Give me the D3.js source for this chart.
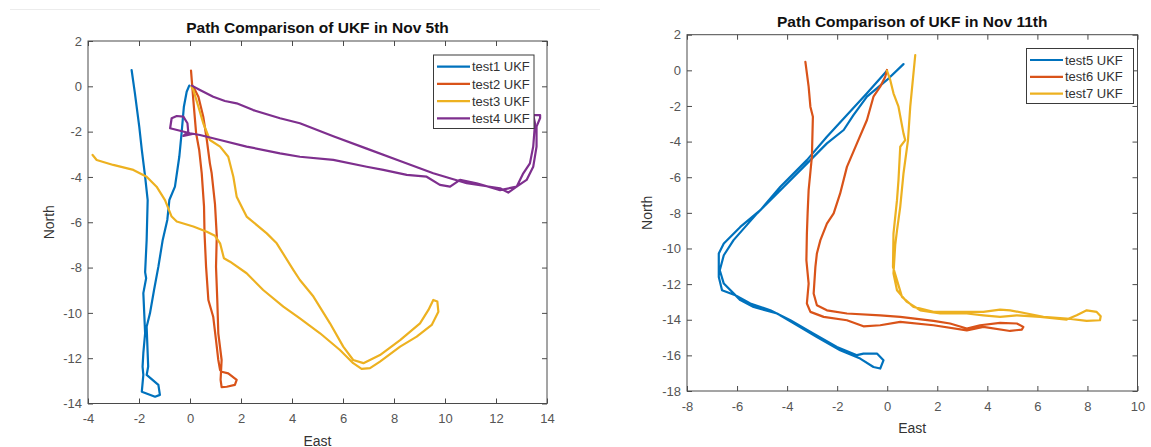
<!DOCTYPE html>
<html>
<head>
<meta charset="utf-8">
<script src="https://cdn.jsdelivr.net/npm/d3@7"></script>
<style>
  html, body { margin: 0; padding: 0; background: #fff; }
  svg { display: block; font-family: "Liberation Sans", Arial, sans-serif; }
</style>
</head>
<body>
<svg id="chart" width="1151" height="447"></svg>
<script>
// ---------------- DATA ----------------
const titleLeft = "Path Comparison of UKF in Nov 5th";
const titleRight = "Path Comparison of UKF in Nov 11th";
const xLabel = "East";
const yLabel = "North";

const leftXTicks = [-4, -2, 0, 2, 4, 6, 8, 10, 12, 14];
const leftYTicks = [-14, -12, -10, -8, -6, -4, -2, 0, 2];
const rightXTicks = [-8, -6, -4, -2, 0, 2, 4, 6, 8, 10];
const rightYTicks = [-18, -16, -14, -12, -10, -8, -6, -4, -2, 0, 2];

const leftNames = ["test1 UKF", "test2 UKF", "test3 UKF", "test4 UKF"];
const rightNames = ["test5 UKF", "test6 UKF", "test7 UKF"];

// [East, North] samples
const test1 = [[-2.29,0.72],[-2.16,-0.31],[-1.99,-1.78],[-1.89,-2.81],[-1.76,-3.99],[-1.66,-5.02],[-1.70,-6.78],[-1.76,-8.2],[-1.72,-8.47],[-1.83,-9.13],[-1.76,-10.9],[-1.83,-11.78],[-1.86,-12.37],[-1.83,-12.74],[-1.89,-13.48],[-1.37,-13.70],[-1.18,-13.62],[-1.24,-13.18],[-1.70,-12.74],[-1.64,-12.37],[-1.70,-10.61],[-1.57,-10.02],[-1.41,-8.99],[-1.24,-7.96],[-1.07,-6.78],[-0.89,-5.9],[-0.81,-5.02],[-0.59,-4.43],[-0.42,-3.11],[-0.33,-2.07],[-0.24,-0.9],[-0.13,-0.24],[-0.03,0.03]];
const test2 = [[0.04,0.69],[0.13,-0.6],[0.24,-2.07],[0.36,-2.81],[0.46,-3.84],[0.55,-5.31],[0.57,-6.5],[0.63,-7.96],[0.72,-9.43],[0.91,-10.17],[1.02,-11.2],[1.11,-12.08],[1.18,-12.52],[1.24,-12.6],[1.50,-12.67],[1.83,-12.96],[1.76,-13.18],[1.44,-13.26],[1.24,-13.28],[1.20,-12.96],[1.24,-12.08],[1.11,-10.9],[1.07,-9.43],[1.02,-7.96],[1.05,-6.6],[0.98,-5.2],[0.85,-3.84],[0.78,-3.4],[0.66,-2.37],[0.52,-1.34],[0.33,-0.46],[0.13,-0.02]];
const test3 = [[-3.82,-3.03],[-3.66,-3.25],[-3.01,-3.47],[-2.22,-3.69],[-1.70,-3.99],[-1.31,-4.43],[-0.98,-5.02],[-0.72,-5.75],[-0.52,-5.97],[0.13,-6.19],[0.66,-6.42],[0.98,-6.6],[1.18,-6.93],[1.33,-7.59],[1.57,-7.74],[2.22,-8.25],[2.87,-8.99],[3.66,-9.72],[4.31,-10.24],[5.1,-10.9],[5.88,-11.64],[6.4,-12.22],[6.73,-12.47],[7.06,-12.44],[7.45,-12.15],[8.24,-11.49],[8.89,-11.05],[9.48,-10.53],[9.74,-9.95],[9.7,-9.5],[9.54,-9.43],[9.35,-9.87],[9.02,-10.46],[8.24,-11.2],[7.45,-11.86],[6.8,-12.22],[6.4,-12.08],[6.01,-11.49],[5.49,-10.46],[4.84,-9.28],[4.31,-8.55],[4.05,-8.1],[3.4,-6.93],[3.01,-6.49],[2.22,-5.75],[2.09,-5.46],[1.83,-4.87],[1.70,-3.99],[1.5,-3.11],[1.18,-2.66],[0.78,-2.37],[0.52,-1.63],[0.33,-0.9],[0.13,-0.16],[0.05,0.0]];
const test4 = [[0.07,0.03],[0.39,-0.16],[0.91,-0.46],[1.37,-0.65],[1.83,-0.75],[2.48,-1.05],[3.53,-1.41],[4.31,-1.63],[5.62,-2.2],[6.93,-2.75],[8.24,-3.3],[9.54,-3.84],[10.85,-4.28],[12.16,-4.5],[12.48,-4.69],[12.81,-4.43],[13.07,-3.84],[13.33,-3.4],[13.46,-2.66],[13.53,-1.63],[13.46,-1.27],[13.73,-1.27],[13.73,-1.4],[13.59,-1.78],[13.59,-2.66],[13.46,-3.55],[13.2,-4.13],[12.81,-4.43],[12.16,-4.58],[11.24,-4.28],[10.59,-4.13],[10.2,-4.43],[9.8,-4.35],[9.28,-3.99],[8.5,-3.91],[7.58,-3.69],[6.93,-3.55],[5.62,-3.25],[4.31,-3.11],[3.53,-2.96],[2.22,-2.66],[1.18,-2.37],[0.39,-2.15],[0.0,-2.07],[-0.78,-1.85],[-0.72,-1.41],[-0.52,-1.31],[-0.26,-1.34],[-0.1,-1.63],[-0.07,-2.0],[-0.26,-2.19],[0.1,-2.1]];
const test5 = [[-0.01,-0.02],[-0.81,-1.29],[-1.61,-2.51],[-2.41,-3.73],[-3.21,-5.04],[-4.27,-6.54],[-5.07,-7.85],[-5.87,-8.79],[-6.53,-9.72],[-6.73,-10.28],[-6.73,-11.6],[-6.6,-12.34],[-6.07,-12.62],[-5.47,-13.09],[-4.67,-13.47],[-3.87,-14.03],[-2.94,-14.78],[-2.01,-15.53],[-1.21,-15.99],[-0.95,-15.9],[-0.41,-15.9],[-0.15,-16.28],[-0.28,-16.74],[-0.55,-16.65],[-1.08,-16.18],[-1.88,-15.71],[-2.81,-14.97],[-3.6,-14.31],[-4.4,-13.65],[-5.34,-13.28],[-5.87,-12.9],[-6.53,-11.97],[-6.69,-11.22],[-6.53,-10.38],[-6.14,-9.53],[-5.2,-8.03],[-4.4,-6.91],[-3.34,-5.42],[-2.41,-4.1],[-1.74,-3.35],[-1.35,-2.51],[-0.81,-1.48],[-0.01,-0.54],[0.65,0.35]];
const test6 = [[-3.27,0.48],[-3.14,-0.92],[-3.07,-2.04],[-2.97,-2.61],[-3.01,-4.85],[-3.14,-6.72],[-3.18,-8.0],[-3.21,-9.16],[-3.23,-10.66],[-3.14,-11.97],[-3.21,-13.09],[-3.07,-13.56],[-2.54,-13.84],[-1.61,-14.03],[-0.95,-14.37],[-0.28,-14.31],[0.52,-14.12],[1.85,-14.31],[3.18,-14.6],[3.84,-14.4],[4.91,-14.63],[5.38,-14.55],[5.44,-14.4],[5.18,-14.21],[4.51,-14.18],[3.71,-14.31],[3.18,-14.49],[2.51,-14.21],[1.85,-14.06],[0.52,-13.84],[-0.28,-13.75],[-1.61,-13.65],[-2.41,-13.47],[-2.81,-13.19],[-2.94,-12.53],[-2.87,-11.03],[-2.81,-10.28],[-2.67,-9.53],[-2.41,-8.6],[-2.14,-8.03],[-1.88,-6.91],[-1.61,-5.42],[-1.21,-4.1],[-0.81,-2.79],[-0.55,-1.48],[-0.28,-0.92],[-0.08,-0.36],[-0.01,0.02]];
const test7 = [[1.12,0.86],[0.92,-2.04],[0.83,-3.92],[0.65,-5.79],[0.52,-7.66],[0.39,-9.0],[0.32,-9.8],[0.25,-11.4],[0.39,-12.34],[0.79,-13.0],[1.32,-13.47],[2.12,-13.65],[3.18,-13.65],[3.84,-13.75],[4.51,-13.84],[5.18,-13.75],[6.11,-13.84],[7.17,-13.99],[7.57,-13.75],[7.97,-13.47],[8.37,-13.56],[8.53,-13.8],[8.5,-14.03],[7.97,-14.06],[7.17,-13.93],[6.24,-13.84],[5.58,-13.65],[4.91,-13.47],[4.51,-13.43],[3.84,-13.56],[1.85,-13.56],[1.05,-13.28],[0.59,-12.72],[0.23,-11.03],[0.25,-9.16],[0.39,-7.29],[0.45,-6.16],[0.52,-4.29],[0.72,-3.92],[0.65,-3.54],[0.45,-2.04],[0.25,-1.29],[0.12,-0.54],[-0.01,-0.02]];

const colors = ["#0072BD", "#D95319", "#EDB120", "#7E2F8E"];

// ---------------- DRAW ----------------
const svg = d3.select("#chart");
const axisColor = "#4a4a4a";
const labelColor = "#555";

// faint separator line at the top of the left image
svg.append("line").attr("x1", 10).attr("x2", 600).attr("y1", 9.5).attr("y2", 9.5)
  .attr("stroke", "#ececec").attr("stroke-width", 1);

function panel(cfg) {
  const x = d3.scaleLinear().domain(cfg.xDom).range([cfg.x0, cfg.x1]);
  const y = d3.scaleLinear().domain(cfg.yDom).range([cfg.yB, cfg.yT]);
  const g = svg.append("g");

  const line = d3.line().x(d => x(d[0])).y(d => y(d[1]));
  cfg.series.forEach((s, i) => {
    g.append("path").datum(s)
      .attr("d", line)
      .attr("fill", "none")
      .attr("stroke", colors[i])
      .attr("stroke-width", 2.2)
      .attr("stroke-linejoin", "round")
      .attr("stroke-linecap", "round");
  });

  const styleAxis = sel => {
    sel.select(".domain").remove();
    sel.selectAll(".tick line").attr("stroke", axisColor);
    sel.selectAll(".tick text").attr("fill", labelColor)
      .style("font-size", "13px").style("font-family", '"Liberation Sans", Arial, sans-serif');
  };

  g.append("g").attr("transform", `translate(0,${cfg.yB})`)
    .call(d3.axisBottom(x).tickValues(cfg.xTicks).tickSize(-5).tickPadding(10.5).tickFormat(d3.format("d")))
    .call(styleAxis);
  g.append("g").attr("transform", `translate(0,${cfg.yT})`)
    .call(d3.axisTop(x).tickValues(cfg.xTicks).tickSize(-5).tickFormat(""))
    .call(styleAxis);
  g.append("g").attr("transform", `translate(${cfg.x0},0)`)
    .call(d3.axisLeft(y).tickValues(cfg.yTicks).tickSize(-5).tickPadding(6).tickFormat(d3.format("d")))
    .call(styleAxis);
  g.append("g").attr("transform", `translate(${cfg.x1},0)`)
    .call(d3.axisRight(y).tickValues(cfg.yTicks).tickSize(-5).tickFormat(""))
    .call(styleAxis);

  g.selectAll("text").filter(function () { return this.textContent.startsWith("−"); })
    .text(function () { return this.textContent.replace("−", "-"); });

  g.append("rect")
    .attr("x", cfg.x0).attr("y", cfg.yT)
    .attr("width", cfg.x1 - cfg.x0).attr("height", cfg.yB - cfg.yT)
    .attr("fill", "none").attr("stroke", axisColor).attr("stroke-width", 1);

  g.append("text").text(cfg.title)
    .attr("x", (cfg.x0 + cfg.x1) / 2).attr("y", cfg.titleY)
    .attr("text-anchor", "middle").attr("font-weight", "bold")
    .attr("font-size", 15.5).attr("fill", "#111");

  g.append("text").text(xLabel)
    .attr("x", (cfg.x0 + cfg.x1) / 2).attr("y", cfg.xLabelY)
    .attr("text-anchor", "middle").attr("font-size", 14).attr("fill", "#333");

  g.append("text").text(yLabel)
    .attr("transform", `translate(${cfg.yLabelX},${(cfg.yT + cfg.yB) / 2}) rotate(-90)`)
    .attr("text-anchor", "middle").attr("dy", "0.35em")
    .attr("font-size", 14).attr("fill", "#333");

  // legend
  const L = cfg.legend;
  const lg = g.append("g");
  lg.append("rect").attr("x", L.x).attr("y", L.y).attr("width", L.w).attr("height", L.h)
    .attr("fill", "#fff").attr("stroke", "#3a3a3a").attr("stroke-width", 1);
  cfg.names.forEach((n, i) => {
    const cy = L.row0 + i * L.step;
    lg.append("line").attr("x1", L.x + 3.5).attr("x2", L.x + 36.5)
      .attr("y1", cy).attr("y2", cy)
      .attr("stroke", colors[i]).attr("stroke-width", 2.2);
    lg.append("text").text(n).attr("x", L.x + 38.5).attr("y", cy).attr("dy", "0.36em")
      .attr("font-size", 13).attr("fill", "#333");
  });
}

panel({
  x0: 88, x1: 547, yT: 41, yB: 403.5,
  xDom: [-4, 14], yDom: [-14, 2],
  xTicks: leftXTicks, yTicks: leftYTicks,
  series: [test1, test2, test3, test4], names: leftNames,
  title: titleLeft, titleY: 33.3, xLabelY: 445.5, yLabelX: 49,
  legend: { x: 433.5, y: 55, w: 100.5, h: 73.5, row0: 66.7, step: 17.2 }
});

panel({
  x0: 687, x1: 1137.5, yT: 34.7, yB: 391,
  xDom: [-8, 10], yDom: [-18, 2],
  xTicks: rightXTicks, yTicks: rightYTicks,
  series: [test5, test6, test7], names: rightNames,
  title: titleRight, titleY: 26.7, xLabelY: 433, yLabelX: 647,
  legend: { x: 1026.5, y: 48.5, w: 107, h: 55, row0: 60, step: 16.8 }
});
</script>
</body>
</html>
